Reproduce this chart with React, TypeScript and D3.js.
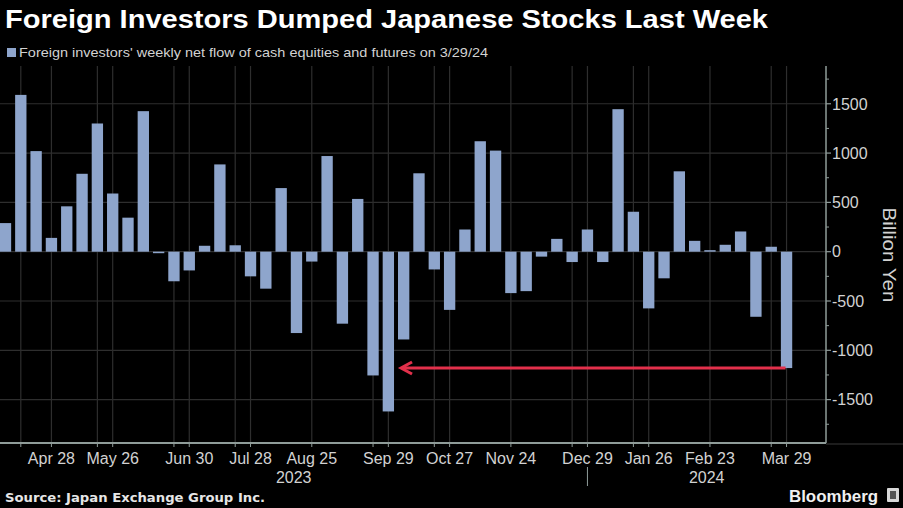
import React from 'react';
import * as d3 from 'd3';

// weekly net flow, billion yen, weeks ending Friday
const weeks = [
  '2023-04-07', '2023-04-14', '2023-04-21', '2023-04-28', '2023-05-05', '2023-05-12', '2023-05-19',
  '2023-05-26', '2023-06-02', '2023-06-09', '2023-06-16', '2023-06-23', '2023-06-30', '2023-07-07',
  '2023-07-14', '2023-07-21', '2023-07-28', '2023-08-04', '2023-08-11', '2023-08-18', '2023-08-25',
  '2023-09-01', '2023-09-08', '2023-09-15', '2023-09-22', '2023-09-29', '2023-10-06', '2023-10-13',
  '2023-10-20', '2023-10-27', '2023-11-03', '2023-11-10', '2023-11-17', '2023-11-24', '2023-12-01',
  '2023-12-08', '2023-12-15', '2023-12-22', '2023-12-29', '2024-01-05', '2024-01-12', '2024-01-19',
  '2024-01-26', '2024-02-02', '2024-02-09', '2024-02-16', '2024-02-23', '2024-03-01', '2024-03-08',
  '2024-03-15', '2024-03-22', '2024-03-29',
];

const netFlow = [
  290, 1590, 1020, 140, 460, 790, 1300,
  590, 345, 1425, -15, -300, -190, 60,
  885, 65, -250, -375, 645, -825, -100,
  970, -730, 535, -1255, -1620, -890, 795,
  -180, -590, 225, 1120, 1025, -420, -400,
  -50, 130, -105, 225, -105, 1445, 405,
  -575, -270, 815, 110, 5, 70, 205,
  -660, 50, -1180,
];

const tickLabels = [
  { week: '2023-04-28', label: 'Apr 28' },
  { week: '2023-05-26', label: 'May 26' },
  { week: '2023-06-30', label: 'Jun 30' },
  { week: '2023-07-28', label: 'Jul 28' },
  { week: '2023-08-25', label: 'Aug 25' },
  { week: '2023-09-29', label: 'Sep 29' },
  { week: '2023-10-27', label: 'Oct 27' },
  { week: '2023-11-24', label: 'Nov 24' },
  { week: '2023-12-29', label: 'Dec 29' },
  { week: '2024-01-26', label: 'Jan 26' },
  { week: '2024-02-23', label: 'Feb 23' },
  { week: '2024-03-29', label: 'Mar 29' },
];

const extraGridWeeks = [
  '2023-04-14', '2023-05-19', '2023-06-23', '2023-07-21', '2023-09-22',
  '2023-10-20', '2023-12-22', '2024-01-19', '2024-03-22',
];

const yearLabels = ['2023', '2024'];
const yTicks = [-1500, -1000, -500, 0, 500, 1000, 1500];

const barColor = '#8ea5cc';
const textColor = '#d2d2d2';
const font = '"Liberation Sans", Arial, sans-serif';

const App: React.FC = () => {
  const width = 903;
  const height = 508;
  const plotLeft = 0;
  const plotRight = 826;
  const plotTop = 66;
  const plotBottom = 443;

  const x = d3.scaleBand<string>()
    .domain(weeks)
    .range([-2.17, 794.2])
    .paddingInner(0.26)
    .paddingOuter(0.13);
  const bw = x.bandwidth();
  const cx = (w: string) => (x(w) ?? 0) + bw / 2;

  const y = d3.scaleLinear().domain([-1940, 1883]).range([plotBottom, plotTop]);
  const minorTicks = d3.range(-1750, 1800, 250).filter(v => v % 500 !== 0);

  const gridWeeks = [...extraGridWeeks, ...tickLabels.map(t => t.week)];

  // year spans: the boundary tick sits on the last 2023 label
  const yearBoundary = cx('2023-12-29');
  const yearCenters = [(plotLeft + yearBoundary) / 2, (yearBoundary + plotRight) / 2];

  const last = weeks[weeks.length - 1];
  const arrowY = y(netFlow[netFlow.length - 1]);
  const arrowTip = (x('2023-09-29') ?? 0) + bw + 7;
  const arrowEnd = cx(last) - 1;

  return (
    <svg width={width} height={height} style={{ display: 'block', background: '#000' }}>
      <style>{`body{margin:0;background:#000}`}</style>
      <rect width={width} height={height} fill="#000" />

      <text x={5} y={28} fill="#fff" fontFamily={font} fontWeight="bold" fontSize={25}
        textLength={763} lengthAdjust="spacingAndGlyphs">
        Foreign Investors Dumped Japanese Stocks Last Week
      </text>
      <rect x={7} y={48} width={9} height={9} fill={barColor} />
      <text x={19} y={57} fill={textColor} fontFamily={font} fontSize={13.5}
        textLength={469} lengthAdjust="spacingAndGlyphs">
        Foreign investors' weekly net flow of cash equities and futures on 3/29/24
      </text>

      {/* grid */}
      {yTicks.map(t => (
        <line key={'h' + t} x1={plotLeft} x2={plotRight} y1={y(t)} y2={y(t)} stroke="#2e2e2e" strokeWidth={1.2} />
      ))}
      {gridWeeks.map(w => (
        <line key={'v' + w} x1={cx(w)} x2={cx(w)} y1={plotTop} y2={plotBottom} stroke="#2e2e2e" strokeWidth={1.2} />
      ))}

      {/* bars */}
      {weeks.map((w, i) => {
        const v = netFlow[i];
        const h = Math.max(1.5, Math.abs(y(v) - y(0)));
        return <rect key={w} x={x(w)} y={v >= 0 ? y(0) - h : y(0)} width={bw} height={h} fill={barColor} />;
      })}

      {/* annotation arrow */}
      <line x1={arrowTip + 2} x2={arrowEnd} y1={arrowY} y2={arrowY} stroke="#e2304b" strokeWidth={3} />
      <polyline points={`${arrowTip + 11},${arrowY - 6} ${arrowTip},${arrowY} ${arrowTip + 11},${arrowY + 6}`}
        fill="none" stroke="#e2304b" strokeWidth={3} strokeLinejoin="miter" />

      {/* x axis */}
      <line x1={plotLeft} x2={plotRight} y1={plotBottom} y2={plotBottom} stroke="#8f9c99" strokeWidth={2} />
      <line x1={plotRight} x2={width} y1={plotBottom + 1} y2={plotBottom + 1} stroke="#3a3a3a" strokeWidth={1} />
      {gridWeeks.map(w => (
        <line key={'xt' + w} x1={cx(w)} x2={cx(w)} y1={plotBottom} y2={plotBottom + 4} stroke="#8f9c99" strokeWidth={1} />
      ))}
      <line x1={yearBoundary} x2={yearBoundary} y1={467} y2={486} stroke="#8f9c99" strokeWidth={1} />
      {tickLabels.map(t => (
        <text key={t.week} x={cx(t.week)} y={464} fill={textColor} fontFamily={font} fontSize={16} textAnchor="middle">
          {t.label}
        </text>
      ))}
      {yearLabels.map((yl, i) => (
        <text key={yl} x={yearCenters[i]} y={483} fill={textColor} fontFamily={font} fontSize={16} textAnchor="middle">
          {yl}
        </text>
      ))}

      {/* y axis */}
      <line x1={plotRight} x2={plotRight} y1={plotTop} y2={plotBottom} stroke="#8f9c99" strokeWidth={1.5} />
      {yTicks.map(t => (
        <g key={'yt' + t}>
          <line x1={plotRight} x2={plotRight + 5} y1={y(t)} y2={y(t)} stroke="#8f9c99" strokeWidth={1.2} />
          <text x={plotRight + 6} y={y(t)} dy="0.36em" fill={textColor} fontFamily={font} fontSize={16}>
            {t < 0 ? '-' + Math.abs(t) : t}
          </text>
        </g>
      ))}
      {minorTicks.map(t => (
        <line key={'ym' + t} x1={plotRight} x2={plotRight + 3} y1={y(t)} y2={y(t)} stroke="#8f9c99" strokeWidth={1} />
      ))}
      <text transform={`translate(883,255) rotate(90)`} fill={textColor} fontFamily={font} fontSize={19}
        textAnchor="middle" textLength={95} lengthAdjust="spacingAndGlyphs">
        Billion Yen
      </text>

      {/* footer */}
      <text x={5} y={502} fill="#e6e6e6" fontFamily='"DejaVu Sans", sans-serif' fontWeight="bold" fontSize={12}
        textLength={260} lengthAdjust="spacingAndGlyphs">
        Source: Japan Exchange Group Inc.
      </text>
      <text x={789} y={502} fill="#f0f0f0" fontFamily={font} fontWeight="bold" fontSize={17}
        textLength={89} lengthAdjust="spacingAndGlyphs">
        Bloomberg
      </text>
      <rect x={887} y={488} width={12} height={14} fill="#d8d8d8" rx={1} />
      <rect x={890} y={491} width={6} height={8} fill="#555" />
    </svg>
  );
};

export default App;
